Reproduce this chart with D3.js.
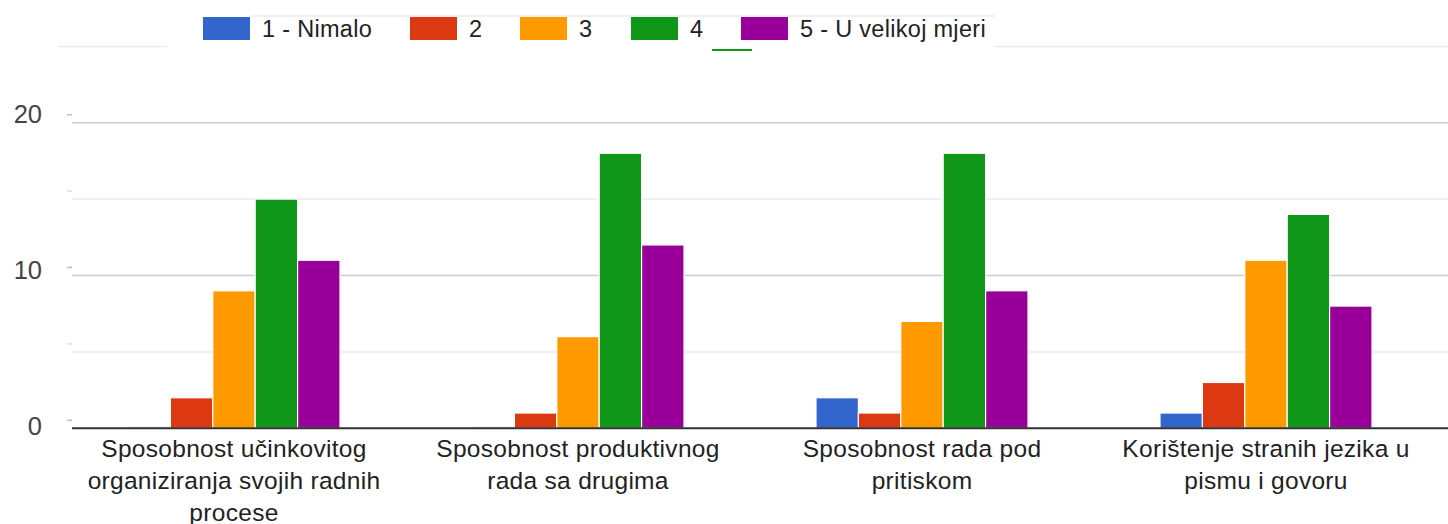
<!DOCTYPE html>
<html>
<head>
<meta charset="utf-8">
<script src="https://cdn.jsdelivr.net/npm/d3@7"></script>
<style>
  html, body { margin: 0; padding: 0; background: #fff; }
  svg { display: block; }
  text { font-family: "Liberation Sans", Arial, sans-serif; }
</style>
</head>
<body>
<svg id="chart" width="1448" height="524"></svg>
<script>
const categories = [
  ["Sposobnost učinkovitog", "organiziranja svojih radnih", "procese"],
  ["Sposobnost produktivnog", "rada sa drugima"],
  ["Sposobnost rada pod", "pritiskom"],
  ["Korištenje stranih jezika u", "pismu i govoru"]
];
const seriesNames = ["1 - Nimalo", "2", "3", "4", "5 - U velikoj mjeri"];
const seriesColors = ["#3366cc", "#dc3912", "#ff9900", "#109618", "#990099"];
const s1 = [0, 0, 2, 1];
const s2 = [2, 1, 1, 3];
const s3 = [9, 6, 7, 11];
const s4 = [15, 18, 18, 14];
const s5 = [11, 12, 9, 8];
const seriesValues = [s1, s2, s3, s4, s5];
const majorTicks = [0, 10, 20];
const minorTicks = [5, 15];

const svg = d3.select("#chart");
const catKeys = categories.map((c, i) => i);

const x0 = d3.scaleBand().domain(catKeys).range([62, 1438]).padding(0);
const groupW = 212;
const x1 = d3.scaleBand().domain(d3.range(seriesNames.length))
  .range([(x0.bandwidth() - groupW) / 2, (x0.bandwidth() + groupW) / 2]).padding(0);
const y = d3.scaleLinear().domain([0, 20]).range([428.3, 122.7]);

// faint frame lines
const frame = svg.append("g").attr("stroke", "#ebebeb").attr("stroke-width", 1.5);
frame.append("line").attr("x1", 58).attr("x2", 167).attr("y1", 46.5).attr("y2", 46.5);
frame.append("line").attr("x1", 995).attr("x2", 1448).attr("y1", 46.5).attr("y2", 46.5);
frame.append("line").attr("x1", 250).attr("x2", 995).attr("y1", 16).attr("y2", 16);

// gridlines
const grid = svg.append("g");
grid.selectAll("line.minor").data(minorTicks).join("line")
  .attr("class", "minor")
  .attr("x1", 72).attr("x2", 1448)
  .attr("y1", d => y(d)).attr("y2", d => y(d))
  .attr("stroke", "#ebebeb").attr("stroke-width", 1.5);
grid.selectAll("line.major").data(majorTicks.filter(d => d !== 0)).join("line")
  .attr("class", "major")
  .attr("x1", 72).attr("x2", 1448)
  .attr("y1", d => y(d)).attr("y2", d => y(d))
  .attr("stroke", "#cccccc").attr("stroke-width", 1.5);
// small tick marks
grid.selectAll("line.tk").data(majorTicks.concat(minorTicks)).join("line")
  .attr("class", "tk")
  .attr("x1", 67).attr("x2", 72)
  .attr("y1", d => y(d) - 8).attr("y2", d => y(d) - 8)
  .attr("stroke", d => majorTicks.includes(d) ? "#bbbbbb" : "#e0e0e0").attr("stroke-width", 1.5);

// y labels
svg.append("g").selectAll("text").data(majorTicks).join("text")
  .attr("x", 42).attr("y", d => y(d) - 2 - d * 0.33)
  .attr("text-anchor", "end").attr("dominant-baseline", "central")
  .attr("font-size", 25.5).attr("fill", "#444")
  .text(d => d);

// bars
const groups = svg.append("g").selectAll("g").data(catKeys).join("g")
  .attr("transform", d => `translate(${x0(d)},0)`);
groups.selectAll("rect").data(ci => seriesValues.map((vals, si) => ({ si, v: vals[ci] }))).join("rect")
  .attr("x", d => x1(d.si))
  .attr("width", x1.bandwidth())
  .attr("y", d => d.v === 0 ? y(0) - 1.5 : y(d.v))
  .attr("height", d => d.v === 0 ? 1.5 : y(0) - y(d.v))
  .attr("fill", d => seriesColors[d.si])
  .attr("fill-opacity", d => d.v === 0 ? 0.25 : 1)
  .attr("stroke", "#fff").attr("stroke-width", d => d.v === 0 ? 0 : 1.2);

// baseline
svg.append("line").attr("x1", 72).attr("x2", 1448)
  .attr("y1", y(0)).attr("y2", y(0))
  .attr("stroke", "#333").attr("stroke-width", 2);

// category labels
const lab = svg.append("g").selectAll("text").data(catKeys).join("text")
  .attr("x", d => x0(d) + x0.bandwidth() / 2)
  .attr("y", 457)
  .attr("text-anchor", "middle")
  .attr("font-size", 24.5).attr("letter-spacing", 0.3).attr("fill", "#222");
lab.selectAll("tspan").data(d => categories[d]).join("tspan")
  .attr("x", function() { return d3.select(this.parentNode).attr("x"); })
  .attr("dy", (d, i) => i === 0 ? 0 : 32)
  .text(d => d);

// legend
const legendX = [203, 410, 520, 631, 741];
const leg = svg.append("g").selectAll("g").data(seriesNames).join("g")
  .attr("transform", (d, i) => `translate(${legendX[i]},17)`);
leg.append("rect").attr("width", 47).attr("height", 23)
  .attr("fill", (d, i) => seriesColors[i]);
leg.append("text").attr("x", 59).attr("y", 19.5)
  .attr("font-size", 23.5).attr("letter-spacing", 0.3).attr("fill", "#222")
  .text(d => d);

// green underline under "4"
svg.append("rect").attr("x", 712).attr("y", 49).attr("width", 40).attr("height", 2)
  .attr("fill", seriesColors[3]);
</script>
</body>
</html>
